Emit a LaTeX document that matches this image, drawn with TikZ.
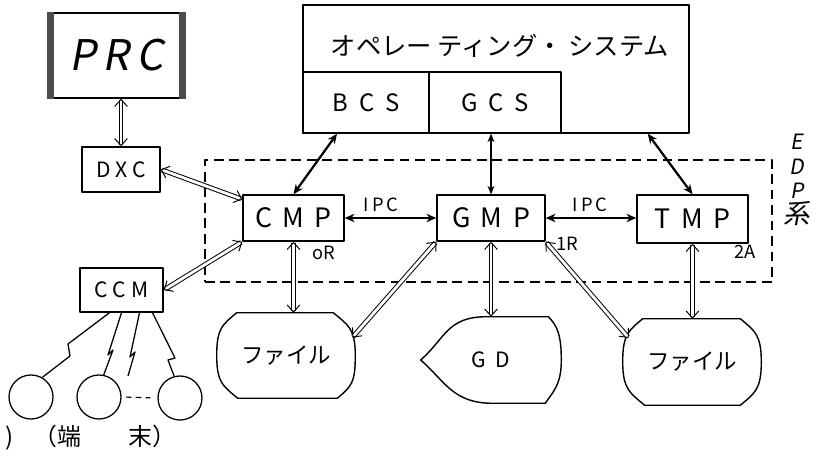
\documentclass[tikz,border=0pt]{standalone}
\usepackage{fontspec}
\setmainfont{Noto Sans CJK JP}
\newfontfamily\slantfont[FakeSlant=0.18]{Noto Sans CJK JP}
\usepackage{tikz}
\usetikzlibrary{arrows.meta}

\begin{document}
\begin{tikzpicture}[x=0.025cm, y=-0.025cm, line join=round,
  box/.style={draw, line width=1pt, rectangle, inner sep=0pt, fill=white},
  dbl/.style={double, double distance=2pt, line width=0.7pt,
    >={Straight Barb[length=5pt,width=9pt]}, <->},
  heavy/.style={line width=1.6pt, >={Stealth[length=7pt,width=6pt]}, <->},
  light/.style={line width=0.8pt, >={Stealth[length=6pt,width=5pt]}, <->},
  zig/.style={line width=0.9pt},
  term/.style={draw, circle, line width=0.9pt, minimum size=1.1cm, inner sep=0pt},
  small/.style={font=\fontsize{13}{13}\selectfont}]
\useasboundingbox (0,0) rectangle (815,457);

% EDP area
\node [draw, line width=0.9pt, dash pattern=on 7pt off 4pt, rectangle,
  minimum width=14.175cm, minimum height=3.05cm] (edp) at (488.5,221) {};
\node [align=center, font=\slantfont\fontsize{15}{17.5}\selectfont] (edplbl)
  at (797,180) {E\\D\\P\\{\fontsize{19}{17.5}\selectfont 系}};

% PRC / DXC / CCM
\node [box, minimum width=3.425cm, minimum height=2.125cm] (prc) at (116.5,55.5)
  {\slantfont\fontsize{30}{30}\selectfont P\,R\,C};
\fill [black!70] (prc.north west) rectangle ([shift={(7,0)}]prc.south west);
\fill [black!70] ([shift={(-7,0)}]prc.north east) rectangle (prc.south east);
\node [box, minimum width=1.95cm, minimum height=1.125cm,
  font=\fontsize{15}{15}\selectfont] (dxc) at (121,169.5) {D\ X\ C};
\node [box, minimum width=2.075cm, minimum height=1.1cm,
  font=\fontsize{15}{15}\selectfont] (ccm) at (121.5,290) {C\ C\ M};

% operating system
\node [box, minimum width=9.65cm, minimum height=3.2cm] (os) at (496,69) {};
\node [font=\fontsize{18}{18}\selectfont] (title) at (500,46)
  {オペレー\ ティング・\ システム};
\node [box, minimum width=3.15cm, minimum height=1.525cm,
  font=\fontsize{17}{17}\selectfont] (bcs) at (366,102.5) {B\ \ C\ \ S};
\node [box, minimum width=3.3cm, minimum height=1.525cm,
  font=\fontsize{17}{17}\selectfont] (gcs) at (495,102.5) {G\ \ C\ \ S};

% modules
\node [box, minimum width=2.525cm, minimum height=1.15cm,
  font=\fontsize{19}{19}\selectfont] (cmp) at (293.5,218) {C\ \,M\ \,P};
\node [box, minimum width=2.7cm, minimum height=1.15cm,
  font=\fontsize{19}{19}\selectfont] (gmp) at (491,218) {G\ \,M\ \,P};
\node [box, minimum width=2.775cm, minimum height=1.2cm,
  font=\fontsize{19}{19}\selectfont] (tmp) at (692.5,219) {T\ \,M\ \,P};
\node [small] (ipc1) at (381,205) {I\,P\,C};
\node [small] (ipc2) at (590,205) {I\,P\,C};
\node [small] (or) at (324,253) {oR};
\node [small] (ir) at (567,244) {1R};
\node [small] (za) at (745,252) {2A};

% files
\node [minimum width=3.45cm, minimum height=2.125cm, inner sep=0pt,
  font=\fontsize{16}{16}\selectfont] (file1) at (286,355.5) {ファイル};
\node [minimum width=3.5cm, minimum height=2.15cm, inner sep=0pt,
  font=\fontsize{15}{15}\selectfont] (gd) at (491,360) {G\ \ D};
\node [minimum width=3.45cm, minimum height=2.15cm, inner sep=0pt,
  font=\fontsize{16}{16}\selectfont] (file2) at (692,362) {ファイル};
\draw [line width=1pt] ([shift={(20,0)}]file1.north west) -- ([shift={(-22,0)}]file1.north east)
  .. controls +(14,12) and +(0,-28) .. (file1.east)
  .. controls +(0,28) and +(14,-12) .. ([shift={(-18,0)}]file1.south east)
  -- ([shift={(21,0)}]file1.south west)
  .. controls +(-14,-12) and +(0,28) .. (file1.west)
  .. controls +(0,-28) and +(-14,12) .. cycle;
\draw [line width=1pt] ([shift={(20,0)}]file2.north west) -- ([shift={(-21,0)}]file2.north east)
  .. controls +(14,12) and +(0,-28) .. (file2.east)
  .. controls +(0,28) and +(14,-12) .. ([shift={(-21,0)}]file2.south east)
  -- ([shift={(22,0)}]file2.south west)
  .. controls +(-14,-12) and +(0,28) .. (file2.west)
  .. controls +(0,-28) and +(-14,12) .. cycle;
\draw [line width=1pt] ([shift={(-4,0)}]gd.north) -- ([shift={(-13,0)}]gd.north east)
  .. controls +(9,9) and +(0,-25) .. (gd.east)
  .. controls +(0,25) and +(8,-12) .. ([shift={(-16,0)}]gd.south east)
  -- ([shift={(2,0)}]gd.south)
  .. controls +(-40,0) and +(25,22) .. (gd.west)
  .. controls +(25,-22) and +(-40,0) .. cycle;

% terminals
\node [term] (t1) at (31,397) {};
\node [term] (t2) at (99,397) {};
\node [term] (t3) at (180,398) {};
\coordinate (tfree) at (128,376);
\node [anchor=west, font=\fontsize{17}{17}\selectfont] (caption) at (1,438)
  {)\hspace{0.8em}（端\hspace{2em}末）};

% connectors
\draw [dbl] (dxc.north |- prc.south) -- (dxc.north);
\draw [dbl] (dxc.east) -- ([shift={(0,5)}]cmp.north west);
\draw [dbl] (ccm.east) -- (cmp.south west);
\draw [heavy] ([shift={(-29,0)}]bcs.south) -- (cmp.north);
\draw [light] (gmp.north |- gcs.south) -- (gmp.north);
\draw [heavy] ([shift={(-42,0)}]os.south east) -- (tmp.north);
\draw [heavy] (cmp.east) -- (gmp.west);
\draw [heavy] (gmp.east) -- (gmp.east -| tmp.west);
\draw [dbl] (cmp.south) -- (cmp.south |- file1.north);
\draw [dbl] (gmp.south west) -- ([shift={(-3,-18)}]file1.east);
\draw [dbl] (gmp.south) -- (gmp.south |- gd.north);
\draw [dbl] (gmp.south east) -- ([shift={(6,-24)}]file2.west);
\draw [dbl] (tmp.south) -- (tmp.south |- file2.north);

% lines to the terminals
\draw [zig] ([shift={(-12,0)}]ccm.south) -- (68,344) -- (70,356) -- (t1.60);
\draw [zig] ([shift={(0,0)}]ccm.south) -- (108,355) -- (113,350) -- (t2.78);
\draw [zig] ([shift={(18,0)}]ccm.south) -- (130,357) -- (135,352) -- (tfree);
\draw [zig] ([shift={(31,0)}]ccm.south) -- (175,358) -- (168,360) -- (t3.105);
\draw [line width=0.8pt, dash pattern=on 4pt off 3pt, shorten <=3pt, shorten >=5pt]
  (t2.east) -- (t3.west);
\end{tikzpicture}
\end{document}
